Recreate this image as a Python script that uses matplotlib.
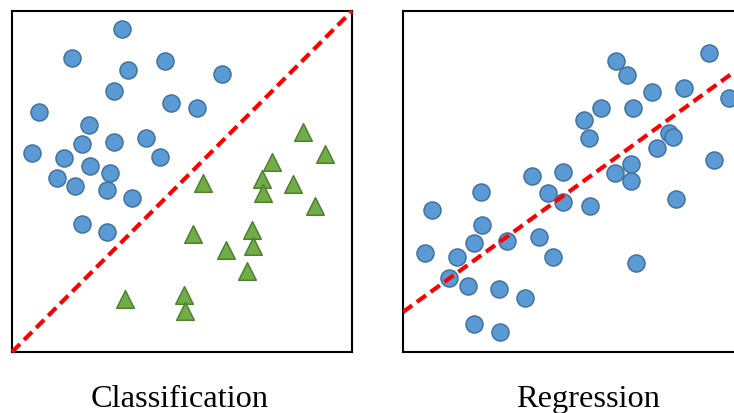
import matplotlib
matplotlib.use("Agg")
import matplotlib.pyplot as plt
import numpy as np

# Classification panel: two classes
class_a_x = [110, 60, 116, 153, 210, 102, 27, 159, 185, 77, 70, 102, 134, 20,
             52, 148, 78, 98, 45, 63, 95, 120, 70, 95]
class_a_y = [323, 294, 282, 291, 278, 261, 240, 249, 244, 227, 208, 210, 214, 199,
             194, 195, 186, 179, 174, 166, 162, 154, 128, 120]
class_b_x = [291, 313, 260, 250, 191, 281, 251, 303, 181, 240, 241, 214, 235,
             113, 172, 173]
class_b_y = [220, 198, 190, 173, 169, 168, 159, 146, 118, 122, 106, 102, 81,
             53, 57, 41]

# Regression panel
reg_x = [213, 224, 306, 249, 281, 326, 198, 230, 181, 186, 266, 270, 254, 228,
         212, 228, 311, 129, 160, 78, 145, 160, 187, 273, 29, 79, 71, 104, 136,
         22, 54, 150, 233, 46, 65, 96, 122, 71, 97]
reg_y = [291, 277, 299, 260, 264, 254, 244, 244, 232, 214, 219, 215, 204, 188,
         179, 171, 192, 176, 180, 160, 159, 150, 146, 153, 142, 127, 109, 111, 115,
         99, 95, 95, 89, 74, 66, 63, 54, 28, 20]
reg_intercept, reg_slope = 40, 0.725

blue, blue_edge = "#5B9BD5", "#41719C"
green, green_edge = "#70AD47", "#507E32"

W, H = 734, 414
fig = plt.figure(figsize=(W / 100, H / 100), dpi=100)

ax1 = fig.add_axes([12 / W, 61 / H, 340 / W, 341 / H])
ax2 = fig.add_axes([403 / W, 61 / H, 370 / W, 341 / H])

ax1.scatter(class_a_x, class_a_y, s=150, c=blue, edgecolors=blue_edge,
            linewidths=1.1, zorder=2)
ax1.scatter(class_b_x, class_b_y, s=160, marker="^", c=green,
            edgecolors=green_edge, linewidths=1.1, zorder=2)
ax1.plot([0, 340], [0, 341], color="#FF0000", lw=3,
         linestyle=(0, (2.7, 1.4)), zorder=3, clip_on=False)
ax1.set_xlim(0, 340)
ax1.set_ylim(0, 341)

ax2.scatter(reg_x, reg_y, s=150, c=blue, edgecolors=blue_edge,
            linewidths=1.1, zorder=2)
xl = np.array([0, 370])
ax2.plot(xl, reg_intercept + reg_slope * xl, color="#FF0000", lw=3,
         linestyle=(0, (2.7, 1.4)), zorder=3)
ax2.set_xlim(0, 370)
ax2.set_ylim(0, 341)

for ax in (ax1, ax2):
    ax.set_xticks([])
    ax.set_yticks([])
    for sp in ax.spines.values():
        sp.set_linewidth(1.5)
        sp.set_color("black")

fig.text(180 / W, 7 / H, "Classification", ha="center", va="baseline",
         fontsize=23.3, family="Liberation Serif")
fig.text(588 / W, 7 / H, "Regression", ha="center", va="baseline",
         fontsize=23.3, family="Liberation Serif")

fig.savefig("out.png", dpi=100)
